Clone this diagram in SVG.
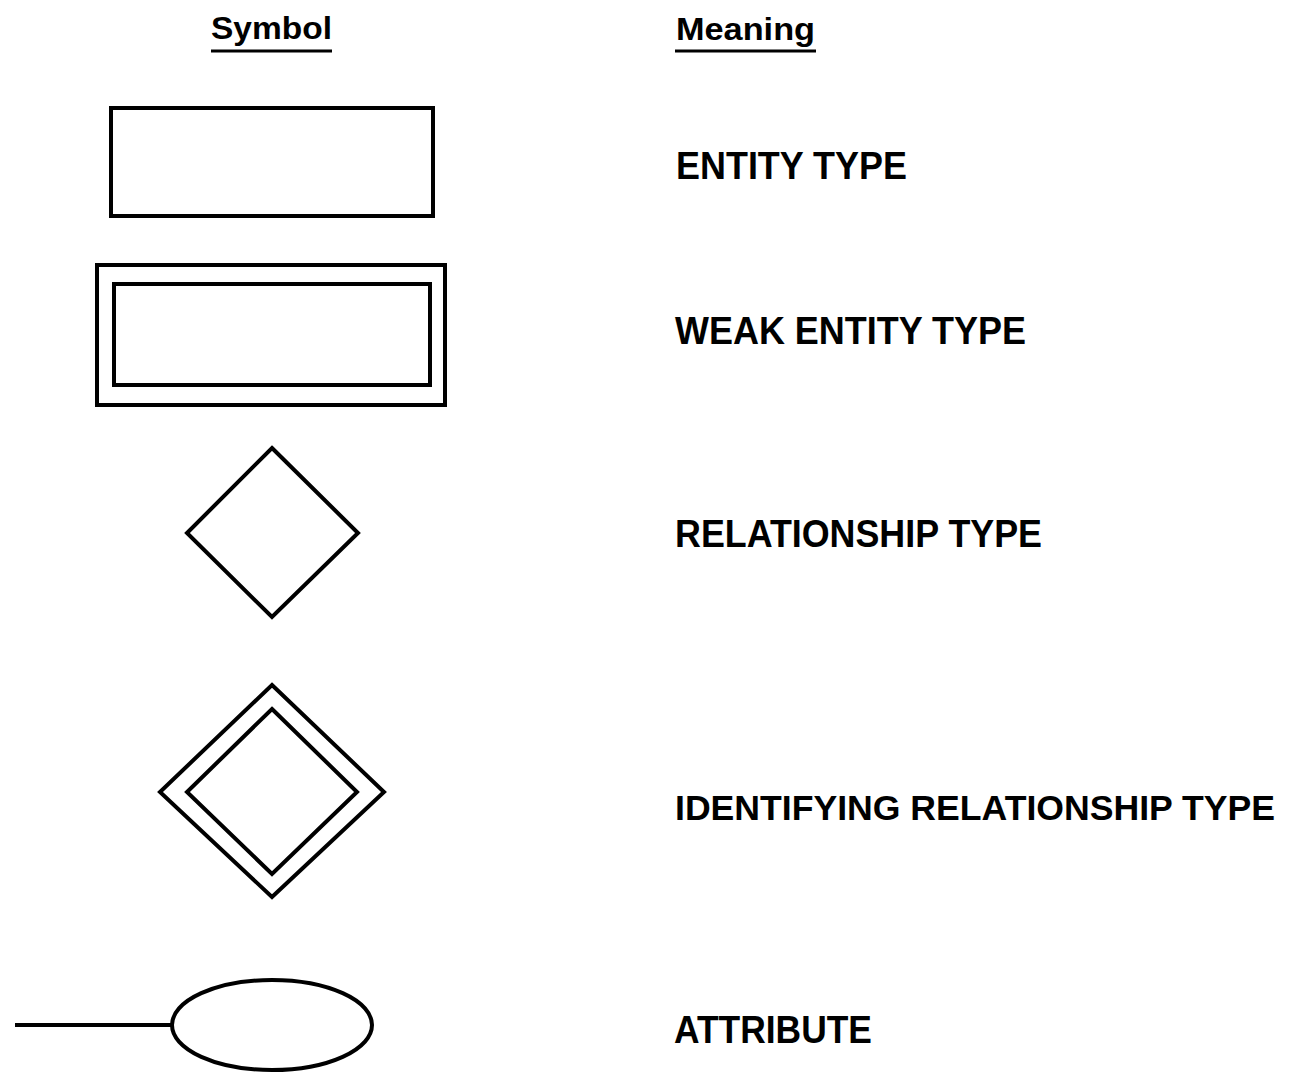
<svg xmlns="http://www.w3.org/2000/svg" width="1289" height="1073" viewBox="0 0 1289 1073">
  <style>
    .shape { fill: none; stroke: #000; stroke-width: 4; }
    .head { font-family: "Liberation Sans", Arial, sans-serif; font-weight: bold; font-size: 32px; fill: #000; }
    .label { font-family: "Liberation Sans", Arial, sans-serif; font-weight: bold; font-size: 38px; fill: #000; }
    .long { font-size: 35px; }
    .rule { stroke: #000; stroke-width: 3; }
  </style>
  <rect width="1289" height="1073" fill="#fff"/>

  <!-- column headings -->
  <g id="headings">
    <text class="head" x="211" y="39" textLength="121" lengthAdjust="spacingAndGlyphs">Symbol</text>
    <line class="rule" x1="211" y1="51" x2="332" y2="51"/>
    <text class="head" x="676" y="40" textLength="139" lengthAdjust="spacingAndGlyphs">Meaning</text>
    <line class="rule" x1="675" y1="51" x2="816" y2="51"/>
  </g>

  <!-- entity type -->
  <g id="entity">
    <rect class="shape" x="111" y="108" width="322" height="108"/>
    <text class="label" x="676" y="179" textLength="231" lengthAdjust="spacingAndGlyphs">ENTITY TYPE</text>
  </g>

  <!-- weak entity type -->
  <g id="weak-entity">
    <rect class="shape" x="97" y="265" width="348" height="140"/>
    <rect class="shape" x="114" y="284" width="316" height="101"/>
    <text class="label" x="675" y="344" textLength="351" lengthAdjust="spacingAndGlyphs">WEAK ENTITY TYPE</text>
  </g>

  <!-- relationship type -->
  <g id="relationship">
    <polygon class="shape" points="272,448 358,533 272,617 187,533"/>
    <text class="label" x="675" y="547" textLength="367" lengthAdjust="spacingAndGlyphs">RELATIONSHIP TYPE</text>
  </g>

  <!-- identifying relationship type -->
  <g id="identifying-relationship">
    <polygon class="shape" points="272,685 384,792 272,897 160,792"/>
    <polygon class="shape" points="272,709 357,792 272,874 187,792"/>
    <text class="label long" x="675" y="820" textLength="600" lengthAdjust="spacingAndGlyphs">IDENTIFYING RELATIONSHIP TYPE</text>
  </g>

  <!-- attribute -->
  <g id="attribute">
    <ellipse class="shape" cx="272" cy="1025" rx="100" ry="45"/>
    <text class="label" x="674" y="1043" textLength="198" lengthAdjust="spacingAndGlyphs">ATTRIBUTE</text>
  </g>

  <g id="connectors">
    <line class="shape" x1="15" y1="1025" x2="172" y2="1025"/>
  </g>
</svg>
